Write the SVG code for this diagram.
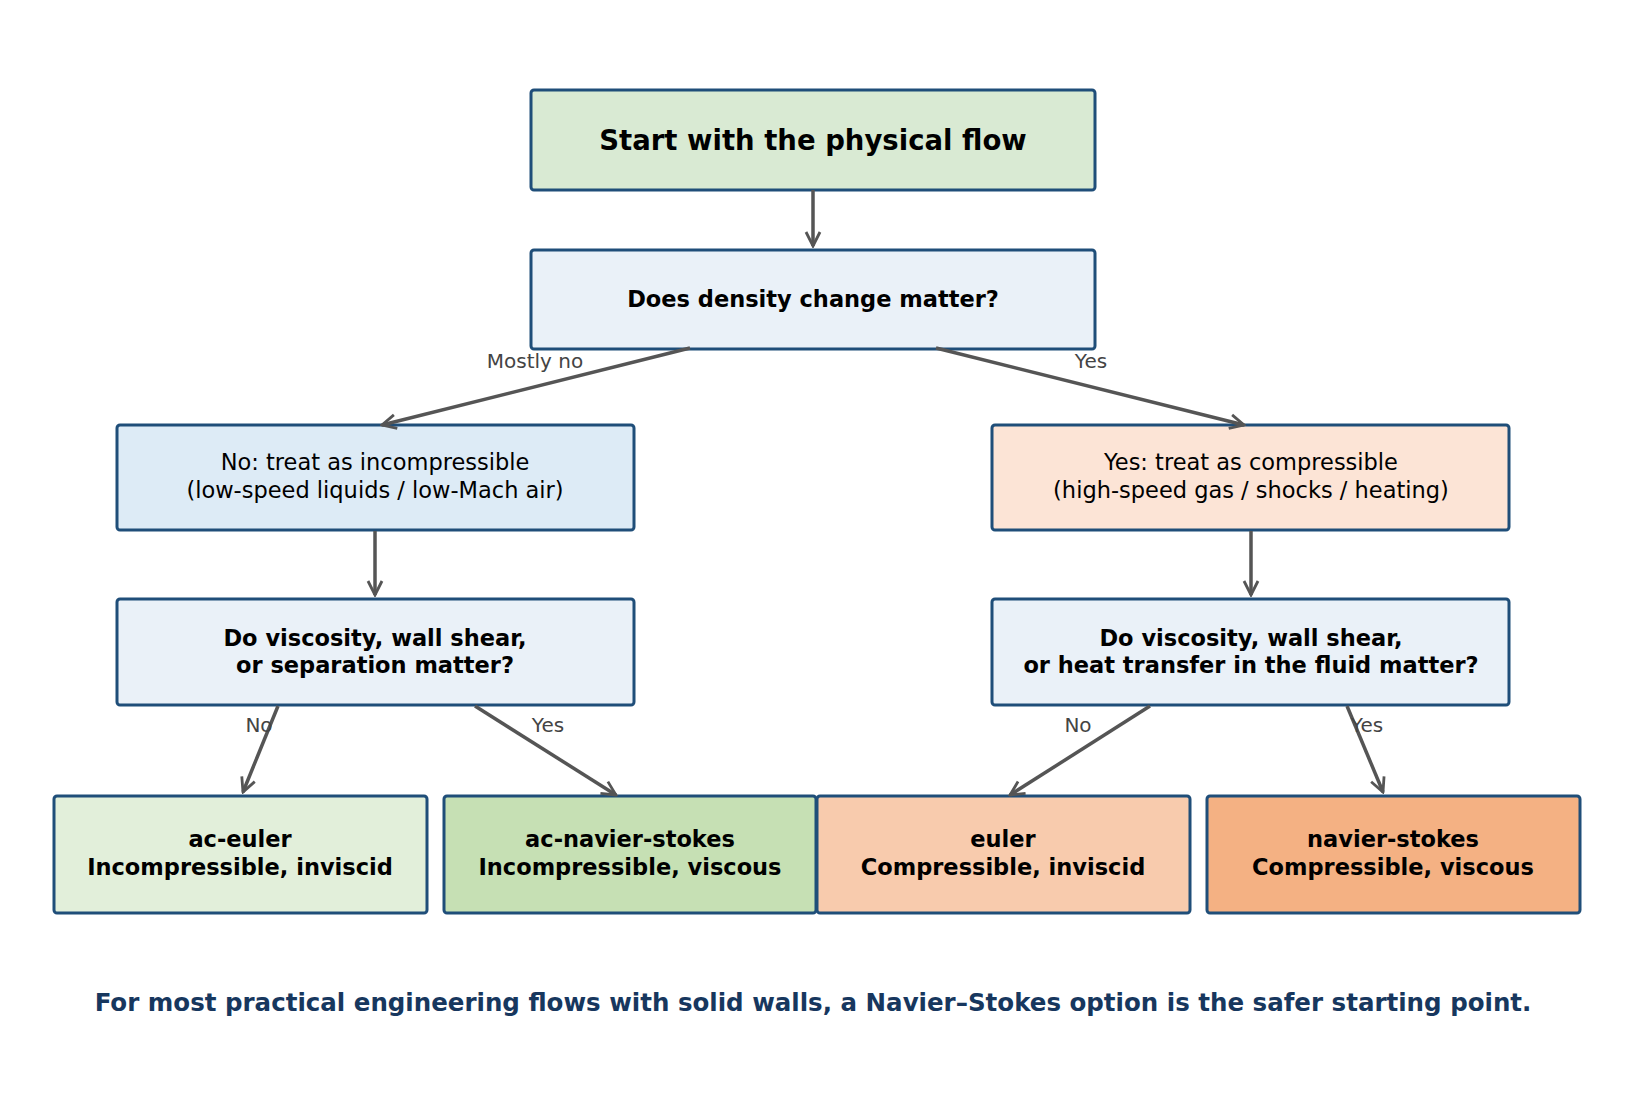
<svg xmlns="http://www.w3.org/2000/svg" width="1626" height="1098" viewBox="0 0 1626 1098">
<style>
.b{stroke:#1f4e79;stroke-width:3}
.t{font-family:"DejaVu Sans",sans-serif;text-anchor:middle;fill:#000}
.bd{font-weight:bold;font-size:22.5px}
.n{font-size:22.5px}
.l{font-family:"DejaVu Sans",sans-serif;text-anchor:middle;fill:#444;font-size:20px}
.c line{stroke:#555;stroke-width:3.5;marker-end:url(#a)}
</style>
<defs><marker id="a" viewBox="0 0 10 10" refX="9" refY="5" markerWidth="5" markerHeight="5" orient="auto" markerUnits="strokeWidth"><path d="M1,1 L9,5 L1,9" fill="none" stroke="#555" stroke-width="1.6"/></marker></defs>
<rect width="1626" height="1098" fill="#fff"/>
<g id="start"><rect class="b" x="531" y="90" width="564" height="100" rx="3" fill="#d9ead3"/><text class="t" x="813" y="150" font-size="27.5" font-weight="bold">Start with the physical flow</text></g>
<g id="density"><rect class="b" x="531" y="250" width="564" height="99" rx="3" fill="#eaf1f8"/><text class="t bd" x="813" y="307">Does density change matter?</text></g>
<g id="incomp"><rect class="b" x="117" y="425" width="517" height="105" rx="3" fill="#ddebf6"/><text class="t n" x="375" y="470">No: treat as incompressible</text><text class="t n" x="375" y="498">(low-speed liquids / low-Mach air)</text></g>
<g id="comp"><rect class="b" x="992" y="425" width="517" height="105" rx="3" fill="#fce4d6"/><text class="t n" x="1251" y="470">Yes: treat as compressible</text><text class="t n" x="1251" y="498">(high-speed gas / shocks / heating)</text></g>
<g id="visc1"><rect class="b" x="117" y="599" width="517" height="106" rx="3" fill="#eaf1f8"/><text class="t bd" x="375" y="646">Do viscosity, wall shear,</text><text class="t bd" x="375" y="673">or separation matter?</text></g>
<g id="visc2"><rect class="b" x="992" y="599" width="517" height="106" rx="3" fill="#eaf1f8"/><text class="t bd" x="1251" y="646">Do viscosity, wall shear,</text><text class="t bd" x="1251" y="673">or heat transfer in the fluid matter?</text></g>
<g id="aceuler"><rect class="b" x="54" y="796" width="373" height="117" rx="3" fill="#e2efda"/><text class="t bd" x="240" y="847">ac-euler</text><text class="t bd" x="240" y="875">Incompressible, inviscid</text></g>
<g id="acns"><rect class="b" x="444" y="796" width="372" height="117" rx="3" fill="#c6e0b4"/><text class="t bd" x="630" y="847">ac-navier-stokes</text><text class="t bd" x="630" y="875">Incompressible, viscous</text></g>
<g id="euler"><rect class="b" x="817" y="796" width="373" height="117" rx="3" fill="#f8cbad"/><text class="t bd" x="1003" y="847">euler</text><text class="t bd" x="1003" y="875">Compressible, inviscid</text></g>
<g id="ns"><rect class="b" x="1207" y="796" width="373" height="117" rx="3" fill="#f4b183"/><text class="t bd" x="1393" y="847">navier-stokes</text><text class="t bd" x="1393" y="875">Compressible, viscous</text></g>
<g class="c" id="connectors">
<line x1="813" y1="190" x2="813" y2="246"/>
<line x1="690" y1="348" x2="382" y2="425"/>
<line x1="936" y1="348" x2="1244" y2="425"/>
<line x1="375" y1="531" x2="375" y2="595"/>
<line x1="1251" y1="531" x2="1251" y2="595"/>
<line x1="278" y1="706" x2="243" y2="792"/>
<line x1="475" y1="706" x2="616" y2="795"/>
<line x1="1150" y1="706" x2="1010" y2="795"/>
<line x1="1347" y1="706" x2="1383" y2="792"/>
</g>
<g id="labels">
<text class="l" x="535" y="368">Mostly no</text>
<text class="l" x="1091" y="368">Yes</text>
<text class="l" x="259" y="732">No</text>
<text class="l" x="548" y="732">Yes</text>
<text class="l" x="1078" y="732">No</text>
<text class="l" x="1367" y="732">Yes</text>
</g>
<text x="813" y="1011" font-family="DejaVu Sans,sans-serif" font-weight="bold" font-size="24.5" fill="#17375e" text-anchor="middle">For most practical engineering flows with solid walls, a Navier–Stokes option is the safer starting point.</text>
</svg>
